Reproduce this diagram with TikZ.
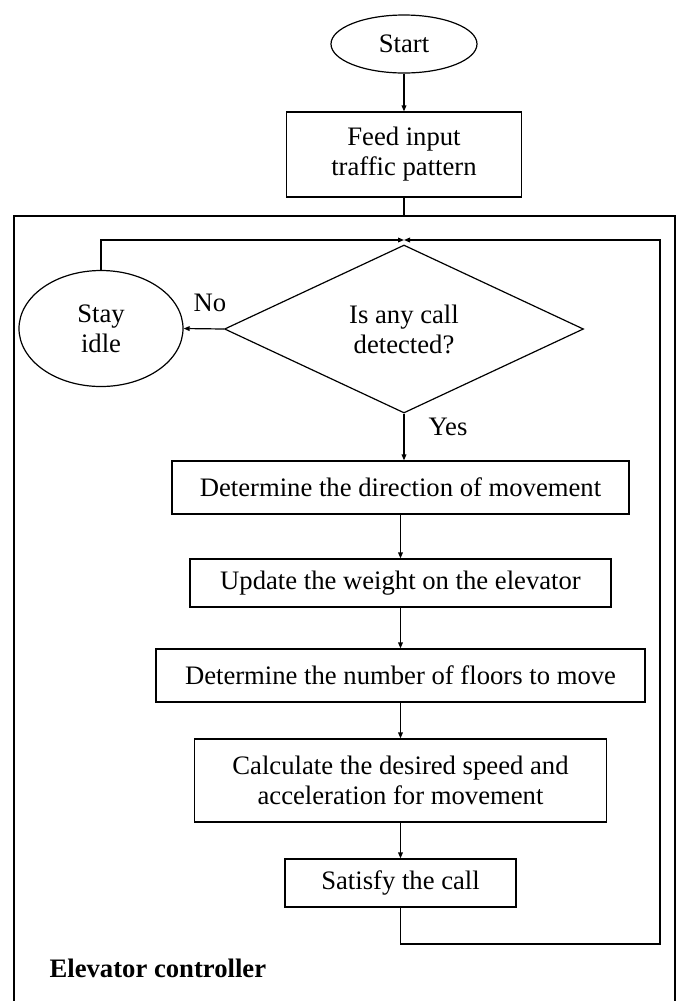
\documentclass[tikz,border=0pt]{standalone}
\usepackage{fontspec}
\setmainfont{Liberation Serif}
\usetikzlibrary{arrows.meta}
\usetikzlibrary{shapes.geometric}

\begin{document}
\begin{tikzpicture}[x=0.75pt, y=-0.75pt, line width=0.9pt,
        >={Triangle[length=4.5pt,width=3.5pt]},
        font=\fontsize{20}{22.5}\selectfont,
        procbox/.style={draw, rectangle, inner sep=0pt, align=center},
        roundnode/.style={draw, ellipse, inner sep=0pt, align=center},
        decide/.style={draw, diamond, inner sep=0pt, align=center}]

        \def\px{0.75pt}

        \useasboundingbox (0,0) rectangle (676,1001);

        \node [roundnode, minimum width=146*\px, minimum height=58*\px] (start) at (404, 44) {Start};
        \node [procbox, minimum width=235*\px, minimum height=85*\px] (feed) at (404, 154.5) {Feed input\\traffic pattern};

        % controller frame
        \draw (14,1010) -- (14,216) -- (675,216) -- (675,1010);
        \coordinate (frametop) at (404,216);
        \node [anchor=west, inner sep=0pt, font=\fontsize{20}{22.5}\selectfont\bfseries] (ctrl) at (49,968) {Elevator controller};

        \node [decide, minimum width=359*\px, minimum height=168*\px] (call) at (404, 329) {Is any call\\detected?};
        \node [roundnode, minimum width=164*\px, minimum height=116*\px] (idle) at (101, 328.5) {Stay\\idle};

        \node [procbox, minimum width=457*\px, minimum height=53*\px] (dir) at (400.5, 487.5) {Determine the direction of movement};
        \node [procbox, minimum width=421*\px, minimum height=48*\px] (weight) at (400.5, 583) {Update the weight on the elevator};
        \node [procbox, minimum width=489*\px, minimum height=53*\px] (floors) at (400.5, 675.5) {Determine the number of floors to move};
        \node [procbox, minimum width=412*\px, minimum height=83*\px] (speed) at (400.5, 780.5) {Calculate the desired speed and\\acceleration for movement};
        \node [procbox, minimum width=231*\px, minimum height=48*\px] (satisfy) at (400.5, 883) {Satisfy the call};

        \node (no) at (210, 303) {No};
        \node (yes) at (448, 427) {Yes};

        \coordinate (merge) at (404,240);
        \coordinate (loopR) at (660,944);

        \draw[->] (start) -- (feed);
        \draw (feed) -- (frametop);
        \draw[->] (call.west) -- (idle.east);
        \draw[->] (idle.north) |- (merge);
        \draw[->] (call.south) -- (call.south |- dir.north);
        \draw[->] (dir) -- (weight);
        \draw[->] (weight) -- (floors);
        \draw[->] (floors) -- (speed);
        \draw[->] (speed) -- (satisfy);
        \draw[->] (satisfy.south) |- (loopR) -- (loopR |- merge) -- (merge);

      \end{tikzpicture}
\end{document}
